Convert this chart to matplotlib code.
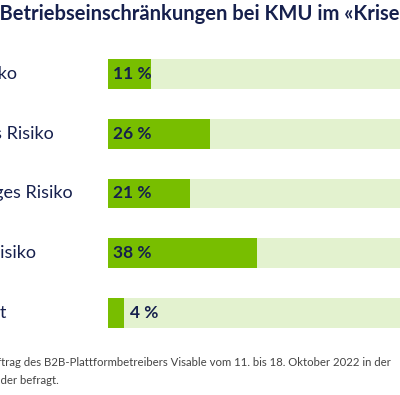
import matplotlib
matplotlib.use("Agg")
import matplotlib.pyplot as plt

categories = ["Hohes Risiko", "Sehr hohes Risiko", "Sehr geringes Risiko",
              "Geringes Risiko", "Weiss nicht"]
values = [11, 26, 21, 38, 4]
title = "Risiko von Betriebseinschränkungen bei KMU im «Krisenwinter»"
note_lines = [
    "Quelle: Umfrage im Auftrag des B2B-Plattformbetreibers Visable vom 11. bis 18. Oktober 2022 in der",
    "Schweiz. Befragt wurden 500 Entscheider befragt.",
]

NAVY = "#16204d"
GREEN = "#78be00"
LIGHT = "#e3f2cf"
GREY = "#444444"

W, H = 400, 395
plt.rcParams["font.family"] = ["Lato", "DejaVu Sans"]

fig = plt.figure(figsize=(W / 100, H / 100), dpi=100)
renderer = fig.canvas.get_renderer()


def place_text(full, visible, x_px, y_px, **kw):
    """Left-aligned text placed so that `visible` starts at x_px."""
    prefix = full[:full.index(visible)]
    w = 0
    if prefix:
        t = fig.text(0, 0, prefix + visible, **kw)
        w_all = t.get_window_extent(renderer).width
        t.set_text(visible)
        w = w_all - t.get_window_extent(renderer).width
        t.remove()
    return fig.text((x_px - w) / W, 1 - y_px / H, full, ha="left",
                    va="baseline", **kw)


# axes: bars start at x=108px, 100 % lies beyond the right edge
ax = fig.add_axes([108 / W, 1 - 343 / H, 392 / W, 299 / H])
pos = list(range(len(values)))
ax.barh(pos, [100] * len(values), height=0.5, color=LIGHT)
ax.barh(pos, values, height=0.5, color=GREEN)
ax.set_xlim(0, 100)
ax.set_ylim(len(values) - 0.5, -0.5)
ax.axis("off")

for p, v in zip(pos, values):
    if v < 8:
        ax.annotate(f"{v} %", (v, p), xytext=(4.5, 0), textcoords="offset points",
                    ha="left", va="center", fontsize=12.5, fontweight="bold",
                    color=NAVY)
    else:
        ax.annotate(f"{v} %", (0, p), xytext=(3.8, 0), textcoords="offset points",
                    ha="left", va="center", fontsize=12.5, fontweight="bold",
                    color=NAVY)

# category labels share one left anchor (outside the visible area)
t = fig.text(0, 0, "Sehr hohes Risiko", fontsize=13)
w_all = t.get_window_extent(renderer).width
t.set_text("Risiko")
anchor = 7 - (w_all - t.get_window_extent(renderer).width)
t.remove()
for p, lab in zip(pos, categories):
    y_disp = ax.transData.transform((0, p))[1]
    fig.text(anchor / W, y_disp / H, lab, ha="left", va="center",
             fontsize=13, color=NAVY)

place_text(title, "Betriebs", -1, 20, fontsize=14.5, fontweight="bold",
           color=NAVY)
place_text(note_lines[0], "trag des", 1, 366, fontsize=8.2, color=GREY)
place_text(note_lines[1], "der befragt", 0, 384, fontsize=8.2, color=GREY)

fig.savefig("out.png", dpi=100)
